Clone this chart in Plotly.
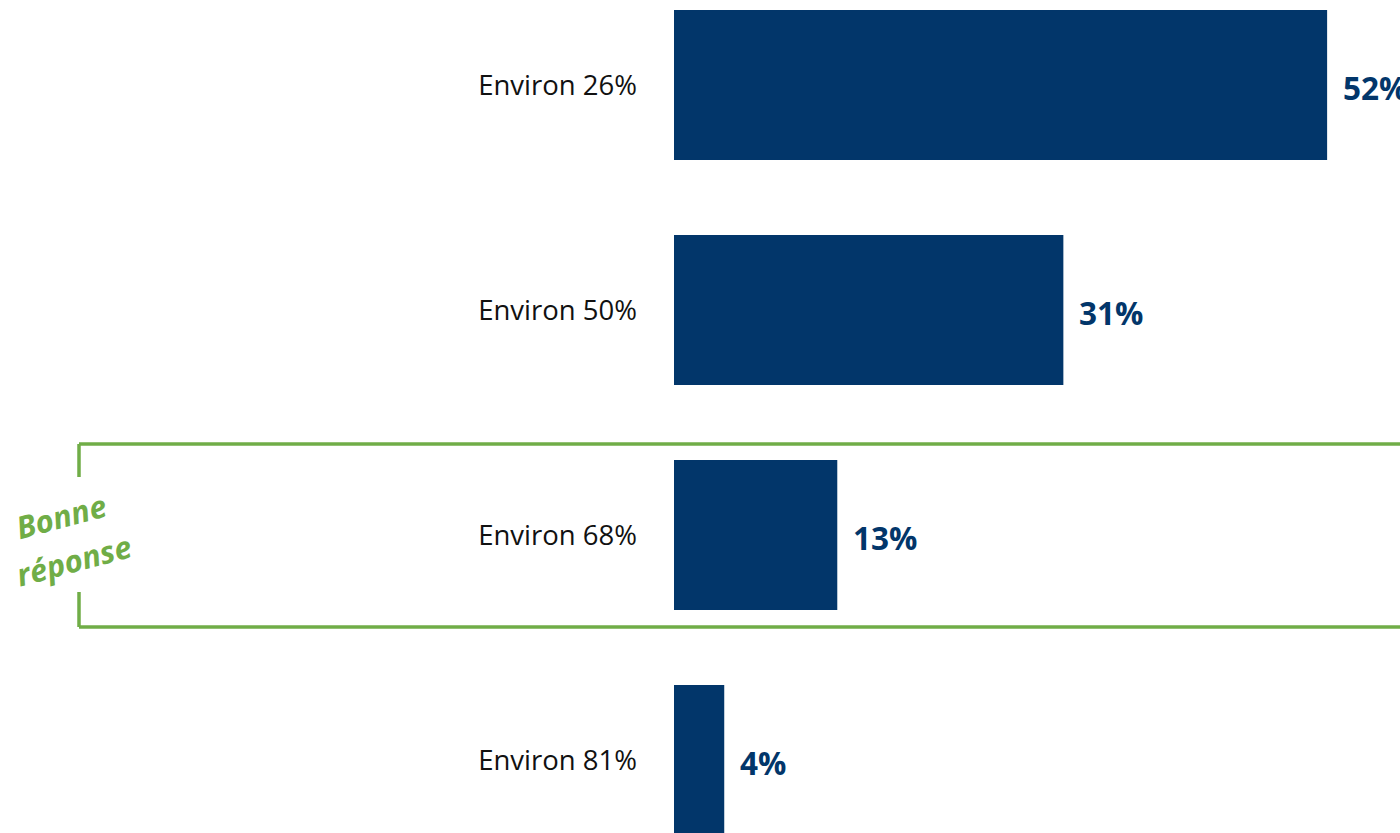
import plotly.graph_objects as go

categories = ["Environ 26%", "Environ 50%", "Environ 68%", "Environ 81%"]
values = [52, 31, 13, 4]
value_labels = ["52%", "31%", "13%", "4%"]
answer_note = ["Bonne", "réponse"]

NAVY = "#02366A"
GREEN = "#70AD47"
W, H = 1400, 833
L = 674

fig = go.Figure()
fig.add_trace(go.Bar(
    y=list(range(len(categories))), x=values, orientation="h",
    marker=dict(color=NAVY, line=dict(width=0)), width=0.667,
    hoverinfo="skip", showlegend=False,
))

for i, (v, t) in enumerate(zip(values, value_labels)):
    fig.add_annotation(x=v, y=i, xref="x", yref="y", text=f"<b>{t}</b>",
                       showarrow=False, xanchor="left", yanchor="middle",
                       xshift=14, yshift=-2,
                       font=dict(family="Open Sans", size=31.5, color=NAVY))

def px_to_paper(px):
    return (px - L) / (W - L)

def py_to_y(py):
    return (py - 85) / 225

line = dict(color=GREEN, width=3.5)
xl = px_to_paper(79)
fig.add_shape(type="line", xref="paper", yref="y", x0=xl, x1=1.2, y0=py_to_y(444), y1=py_to_y(444), line=line)
fig.add_shape(type="line", xref="paper", yref="y", x0=xl, x1=1.2, y0=py_to_y(627), y1=py_to_y(627), line=line)
fig.add_shape(type="line", xref="paper", yref="y", x0=xl, x1=xl, y0=py_to_y(444), y1=py_to_y(477), line=line)
fig.add_shape(type="line", xref="paper", yref="y", x0=xl, x1=xl, y0=py_to_y(592), y1=py_to_y(627), line=line)

for word, (cx, cy) in zip(answer_note, [(61, 516), (74, 560)]):
    fig.add_annotation(x=px_to_paper(cx), y=py_to_y(cy), xref="paper", yref="y",
                       text=f"<b><i>{word}</i></b>", showarrow=False,
                       textangle=-15, xanchor="center", yanchor="middle",
                       font=dict(family="Open Sans", size=31, color=GREEN))

fig.update_layout(
    width=W, height=H,
    margin=dict(l=L, r=0, t=0, b=0),
    paper_bgcolor="white", plot_bgcolor="white",
    xaxis=dict(range=[0, (W - L) / 12.56], visible=False, fixedrange=True),
    yaxis=dict(range=[(H - 85) / 225, -85 / 225], tickmode="array",
               tickvals=list(range(len(categories))), ticktext=categories,
               showgrid=False, zeroline=False, showline=False, ticks="",
               ticklabelstandoff=36, fixedrange=True,
               tickfont=dict(family="Open Sans", size=27.5, color="#111111")),
    showlegend=False,
)

fig.write_html("out.html", config={"displayModeBar": False},
               post_script="document.body.style.margin='0';document.body.style.overflow='hidden';")
